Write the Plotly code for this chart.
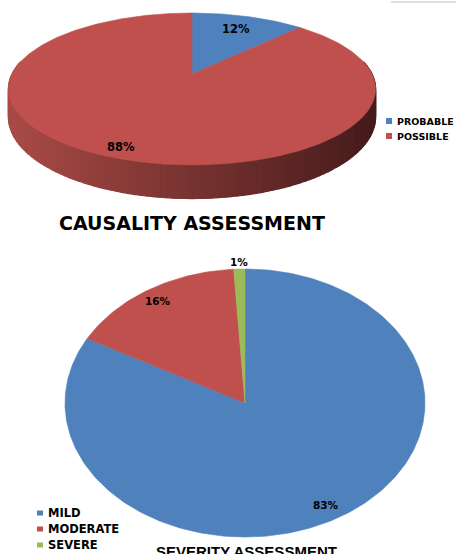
import numpy as np
import plotly.graph_objects as go

# Causality assessment (3-D tilted pie)
causality_labels = ["PROBABLE", "POSSIBLE"]
causality_values = [12, 88]
causality_colors = ["#4f81bd", "#c0504d"]

# Severity assessment (flat pie)
severity_labels = ["MILD", "MODERATE", "SEVERE"]
severity_values = [83, 16, 1]
severity_colors = ["#4f81bd", "#c0504d", "#9bbb59"]

W, H = 456, 554
HEAVY = "DejaVu Sans"
fig = go.Figure()


def poly(xs, ys, color, lw=0.8):
    fig.add_trace(go.Scatter(
        x=list(xs), y=list(ys), mode="lines", fill="toself",
        fillcolor=color, line=dict(color=color, width=lw),
        hoverinfo="skip", showlegend=False))


def mix(c1, c2, t):
    return "rgb(%d,%d,%d)" % tuple(round(a + (b - a) * t) for a, b in zip(c1, c2))


# ---------- 3-D pie: perspective projection of a tilted disc ----------
cx, cy, ax, by, persp, depth = 192, 74, 180, 73, 0.197, 27


def proj(t_deg, r=1.0, drop=0.0):
    t = np.radians(t_deg)
    u, v = r * np.sin(t), r * np.cos(t)
    w = 1 + persp * v
    return cx + ax * u / w, cy - by * v / w + drop / w


# side wall, shaded from left (lighter) to right (darker)
side_light, side_dark = (168, 74, 70), (70, 27, 27)
ts = np.linspace(80, 280, 121)
for t0, t1 in zip(ts[:-1], ts[1:]):
    x0, y0 = proj(t0)
    x1, y1 = proj(t1)
    x2, y2 = proj(t1, drop=depth)
    x3, y3 = proj(t0, drop=depth)
    xm = (x0 + x1) / 2
    frac = np.clip((cx + ax - xm) / (2 * ax), 0, 1)
    col = mix(side_dark, side_light, frac)
    poly([x0, x1, x2, x3, x0], [y0, y1, y2, y3, y0], col, lw=1.2)

# top face slices, clockwise from 12 o'clock
total = sum(causality_values)
start = 0.0
causality_mid = []
for val, col in zip(causality_values, causality_colors):
    span = 360.0 * val / total
    arc = np.linspace(start, start + span, max(int(span), 2) + 1)
    pts = [proj(a) for a in arc]
    xs = [cx] + [p[0] for p in pts] + [cx]
    ys = [cy] + [p[1] for p in pts] + [cy]
    poly(xs, ys, col, lw=0.6)
    causality_mid.append(start + span / 2)
    start += span

causality_label_r = [0.75, 0.9]
for val, mid, r in zip(causality_values, causality_mid, causality_label_r):
    lx, ly = proj(mid, r)
    fig.add_annotation(x=lx, y=ly, text="%d%%" % val, showarrow=False,
                       font=dict(family=HEAVY, size=11.5, color="black", weight="bold"))

# legend for the causality pie
for i, (lab, col) in enumerate(zip(causality_labels, causality_colors)):
    yy = 121 + 15 * i
    fig.add_shape(type="rect", x0=386, x1=392, y0=yy - 3, y1=yy + 3,
                  fillcolor=col, line_width=0)
    fig.add_annotation(x=395, y=yy, text=lab, showarrow=False, xanchor="left",
                       font=dict(family=HEAVY, size=9.5, color="black", weight="bold"))

fig.add_annotation(x=192, y=223, text="CAUSALITY ASSESSMENT", showarrow=False,
                   font=dict(family=HEAVY, size=19, color="black", weight="bold"))

# ---------- flat pie drawn on an elliptical frame ----------
sx, sy, srx, sry = 245, 403, 180, 134
total = sum(severity_values)
start = 0.0
severity_mid = []
for val, col in zip(severity_values, severity_colors):
    span = 360.0 * val / total
    arc = np.radians(np.linspace(start, start + span, max(int(span), 2) + 1))
    xs = [sx] + list(sx + srx * np.sin(arc)) + [sx]
    ys = [sy] + list(sy - sry * np.cos(arc)) + [sy]
    poly(xs, ys, col, lw=0.6)
    severity_mid.append(start + span / 2)
    start += span

severity_label_r = [0.88, 0.9, 1.05]
for val, mid, r in zip(severity_values, severity_mid, severity_label_r):
    m = np.radians(mid)
    fig.add_annotation(x=sx + srx * r * np.sin(m), y=sy - sry * r * np.cos(m),
                       text="%d%%" % val, showarrow=False,
                       font=dict(family=HEAVY, size=10.5, color="black", weight="bold"))

for i, (lab, col) in enumerate(zip(severity_labels, severity_colors)):
    yy = 513 + 16 * i
    fig.add_shape(type="rect", x0=37, x1=43, y0=yy - 2.5, y1=yy + 2.5,
                  fillcolor=col, line_width=0)
    fig.add_annotation(x=46, y=yy, text=lab, showarrow=False, xanchor="left",
                       font=dict(family=HEAVY, size=11.5, color="black", weight="bold"))

fig.add_annotation(x=246, y=551, text="SEVERITY ASSESSMENT", showarrow=False,
                   font=dict(family="Liberation Sans", size=15, color="black", weight="bold"))

# thin rule in the top-right corner
fig.add_shape(type="line", x0=391, x1=456, y0=2, y1=2,
              line=dict(color="#d4d4d4", width=1.5))

fig.update_layout(
    width=W, height=H, margin=dict(l=0, r=0, t=0, b=0),
    paper_bgcolor="white", plot_bgcolor="white", showlegend=False,
    xaxis=dict(range=[0, W], visible=False, fixedrange=True),
    yaxis=dict(range=[H, 0], visible=False, fixedrange=True),
)
fig.write_html("out.html", config={"displayModeBar": False})
